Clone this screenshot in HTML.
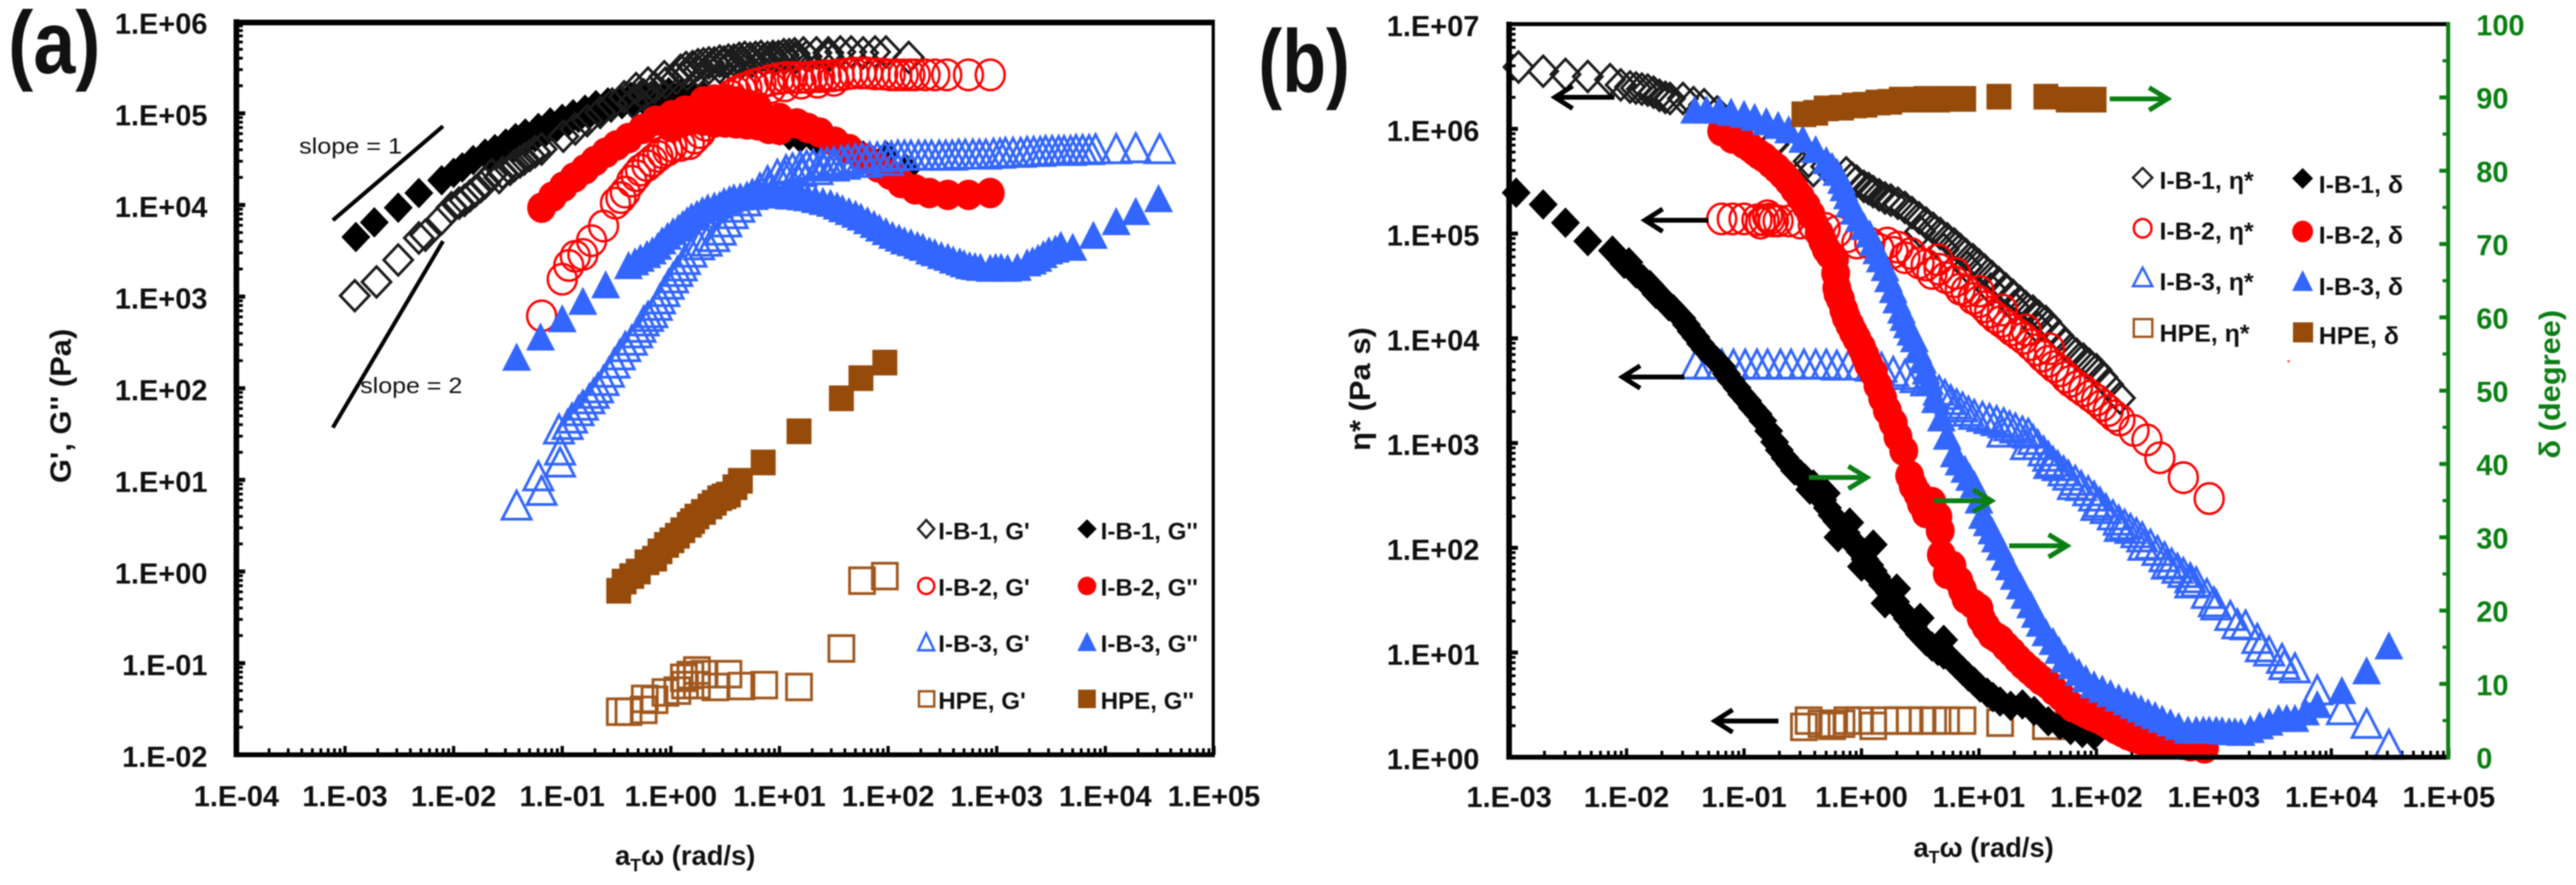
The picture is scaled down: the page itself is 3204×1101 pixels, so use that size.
<!DOCTYPE html>
<html>
<head>
<meta charset="utf-8">
<title>Rheology master curves</title>
<style>
html,body{margin:0;padding:0;background:#fff}
svg{display:block;filter:blur(0.9px)}
text{font-family:"Liberation Sans",sans-serif;font-weight:700;fill:#111}
.leg{font-size:30px}
</style>
</head>
<body>
<svg id="fig" xmlns="http://www.w3.org/2000/svg" width="3204" height="1101" viewBox="0 0 3204 1101">
<rect width="3204" height="1101" fill="#fff"/>

<text x="10" y="91" font-size="110" textLength="115" lengthAdjust="spacingAndGlyphs">(a)</text>
<text x="1565" y="114" font-size="110" textLength="114" lengthAdjust="spacingAndGlyphs">(b)</text>

<g id="a-ticks"></g>
<g id="b-ticks"></g>

<g fill="none">
<g id="a-hpe-gp"></g>
<g id="a-hpe-gpp"></g>
<g id="a-ib1-gpp"></g>
<g id="a-ib1-gp"></g>
<g id="a-ib2-gpp"></g>
<g id="a-ib2-gp"></g>
<g id="a-ib3-gpp"></g>
<g id="a-ib3-gp"></g>
</g>

<g fill="none">
<g id="b-hpe-eta"></g>
<g id="b-ib1-eta"></g>
<g id="b-ib2-eta"></g>
<g id="b-ib3-eta"></g>
<g id="b-ib1-delta"></g>
<g id="b-ib2-delta"></g>
<g id="b-ib3-delta"></g>
<g id="b-hpe-delta"></g>
</g>

<g stroke="#000" fill="none">
<line x1="294" y1="24" x2="294" y2="942" stroke-width="7"/>
<line x1="291" y1="28" x2="1511" y2="28" stroke-width="7"/>
<line x1="291" y1="939" x2="1511" y2="939" stroke-width="6"/>
<line x1="1509" y1="25" x2="1509" y2="942" stroke-width="4"/>
</g>
<g fill="none">
<line x1="1877" y1="27" x2="1877" y2="945" stroke="#000" stroke-width="7"/>
<line x1="1874" y1="30" x2="3047" y2="30" stroke="#000" stroke-width="5"/>
<line x1="1874" y1="942" x2="3047" y2="942" stroke="#000" stroke-width="6"/>
<line x1="3045" y1="28" x2="3045" y2="945" stroke="#0c7f14" stroke-width="5"/>
</g>

<g>
<line x1="414" y1="274" x2="551" y2="157" stroke="#000" stroke-width="5"/>
<line x1="414" y1="532" x2="551" y2="300" stroke="#000" stroke-width="5"/>
<text x="372" y="191" font-size="28" style="font-weight:400" textLength="128" lengthAdjust="spacingAndGlyphs">slope = 1</text>
<text x="448" y="489" font-size="28" style="font-weight:400" textLength="127" lengthAdjust="spacingAndGlyphs">slope = 2</text>
</g>

<text transform="translate(88,505) rotate(-90)" text-anchor="middle" font-size="36" textLength="192" lengthAdjust="spacingAndGlyphs">G', G'' (Pa)</text>
<text x="765" y="1076" font-size="34">a<tspan dy="8" font-size="22">T</tspan><tspan dy="-8">ω (rad/s)</tspan></text>
<text transform="translate(1704,484) rotate(-90)" text-anchor="middle" font-size="36" textLength="154" lengthAdjust="spacingAndGlyphs">η* (Pa s)</text>
<text x="2380" y="1066" font-size="34">a<tspan dy="8" font-size="22">T</tspan><tspan dy="-8">ω (rad/s)</tspan></text>
<text transform="translate(3184,478) rotate(-90)" text-anchor="middle" font-size="36" textLength="185" lengthAdjust="spacingAndGlyphs" style="fill:#0c7f14">δ (degree)</text>

<g>
<g><polygon points="1152,647 1162,658 1152,669 1142,658" fill="#fff" stroke="#222" stroke-width="3"/><text class="leg" x="1167" y="671">I-B-1, G'</text></g>
<g><polygon points="1352,646 1364,658 1352,670 1340,658" fill="#000"/><text class="leg" x="1369" y="671">I-B-1, G''</text></g>
<g><ellipse cx="1152" cy="729" rx="10" ry="10" fill="#fff" stroke="#f00" stroke-width="3"/><text class="leg" x="1167" y="741">I-B-2, G'</text></g>
<g><ellipse cx="1352" cy="729" rx="11.500" ry="11.500" fill="#f00"/><text class="leg" x="1369" y="741">I-B-2, G''</text></g>
<g><polygon points="1152,788 1162,809 1142,809" fill="#fff" stroke="#3366ff" stroke-width="3"/><text class="leg" x="1167" y="811">I-B-3, G'</text></g>
<g><polygon points="1352,786 1364,810 1340,810" fill="#3366ff"/><text class="leg" x="1369" y="811">I-B-3, G''</text></g>
<g><rect x="1143" y="860" width="19" height="19" fill="#fff" stroke="#a0581f" stroke-width="3"/><text class="leg" x="1167" y="882">HPE, G'</text></g>
<g><rect x="1341" y="858" width="22" height="23" fill="#964b0a"/><text class="leg" x="1369" y="882">HPE, G''</text></g>
</g>

<g>
<g><polygon points="2665,209 2677,221 2665,233 2653,221" fill="#fff" stroke="#222" stroke-width="3"/><text class="leg" x="2686" y="235" style="font-size:31px">I-B-1, η*</text></g>
<g><polygon points="2864,209 2877,222 2864,235 2851,222" fill="#000"/><text class="leg" x="2884" y="240" style="font-size:31px">I-B-1, δ</text></g>
<g><ellipse cx="2665" cy="284" rx="11" ry="11.500" fill="#fff" stroke="#f00" stroke-width="3"/><text class="leg" x="2686" y="298" style="font-size:31px">I-B-2, η*</text></g>
<g><ellipse cx="2864" cy="288" rx="13" ry="13.500" fill="#f00"/><text class="leg" x="2884" y="303" style="font-size:31px">I-B-2, δ</text></g>
<g><polygon points="2665,333 2677,356 2653,356" fill="#fff" stroke="#3366ff" stroke-width="3"/><text class="leg" x="2686" y="361" style="font-size:31px">I-B-3, η*</text></g>
<g><polygon points="2864,336 2877,362 2851,362" fill="#3366ff"/><text class="leg" x="2884" y="367" style="font-size:31px">I-B-3, δ</text></g>
<g><rect x="2654" y="397" width="23" height="22" fill="#fff" stroke="#a0581f" stroke-width="3"/><text class="leg" x="2686" y="425" style="font-size:31px">HPE, η*</text></g>
<g><rect x="2852" y="401" width="25" height="25" fill="#964b0a"/><text class="leg" x="2884" y="428" style="font-size:31px">HPE, δ</text></g>
</g>
<rect x="2845" y="448" width="3" height="3" fill="#f66"/>

<g fill="none" stroke-width="6" stroke-linecap="butt">
<path stroke="#000" d="M2008,121 H1934 M1956,107 L1934,121 L1956,135"/>
<path stroke="#000" d="M2125,274 H2046 M2068,260 L2046,274 L2068,288"/>
<path stroke="#000" d="M2095,469 H2018 M2040,455 L2018,469 L2040,483"/>
<path stroke="#000" d="M2212,897 H2133 M2155,883 L2133,897 L2155,911"/>
<path stroke="#0c7f14" d="M2624,123 H2696 M2673,109 L2696,123 L2673,137"/>
<path stroke="#0c7f14" d="M2250,594 H2322 M2299,580 L2322,594 L2299,608"/>
<path stroke="#0c7f14" d="M2405,623 H2477 M2454,609 L2477,623 L2454,637"/>
<path stroke="#0c7f14" d="M2499,679 H2571 M2548,665 L2571,679 L2548,693"/>
</g>
</svg>

<script>
// ---- tick labels ----
const aXTickLabels = ["1.E-04","1.E-03","1.E-02","1.E-01","1.E+00","1.E+01","1.E+02","1.E+03","1.E+04","1.E+05"];
const aYTickLabels = ["1.E-02","1.E-01","1.E+00","1.E+01","1.E+02","1.E+03","1.E+04","1.E+05","1.E+06"];
const bXTickLabels = ["1.E-03","1.E-02","1.E-01","1.E+00","1.E+01","1.E+02","1.E+03","1.E+04","1.E+05"];
const bYTickLabels = ["1.E+00","1.E+01","1.E+02","1.E+03","1.E+04","1.E+05","1.E+06","1.E+07"];
const bDeltaTickLabels = [0,10,20,30,40,50,60,70,80,90,100];

// ---- panel (a): log10 of aT*omega (rad/s) and log10 of modulus (Pa) ----
const ib1GpOmega = [-2.91,-2.71,-2.51,-2.32,-2.26,-2.11,-2.02,-1.90,-1.80,-1.71,-1.58,-1.48,-1.39,-1.30,-1.19,-0.99,-0.88,-0.77,-0.65,-0.54,-0.43,-0.32,-0.21,-0.06,0.09,0.20,0.30,0.40,0.49,0.58,0.68,0.78,0.89,0.99,1.09,1.34,1.56,1.77,1.98,2.19,
-1.95,-1.85,-1.75,-1.65,-1.55,-1.44,-1.35,-1.25,-0.35,-0.25,-0.15,-0.05,0.05,0.15,0.25,0.35,0.45,0.55,0.65,0.75,0.85,0.95,1.05,1.15,1.25,1.45,0.14,0.25,0.35,0.45,0.53,0.63,0.73,0.83,0.94,1.04,1.14,1.22,1.45,1.66,1.88];
const ib1GpMod = [3.01,3.16,3.40,3.64,3.67,3.85,3.97,4.05,4.15,4.24,4.30,4.39,4.47,4.54,4.61,4.75,4.83,4.92,5.01,5.10,5.18,5.27,5.33,5.40,5.47,5.51,5.54,5.55,5.56,5.58,5.61,5.61,5.61,5.62,5.64,5.66,5.67,5.66,5.67,5.61,
4.02,4.10,4.20,4.33,4.35,4.43,4.50,4.58,5.12,5.20,5.28,5.33,5.38,5.42,5.46,5.49,5.50,5.53,5.55,5.57,5.58,5.59,5.60,5.61,5.62,5.62,5.50,5.53,5.55,5.57,5.58,5.60,5.60,5.62,5.62,5.64,5.65,5.66,5.66,5.67,5.67];
const ib1GppOmega = [-2.90,-2.73,-2.51,-2.32,-2.11,-2.00,-1.92,-1.82,-1.71,-1.62,-1.52,-1.43,-1.34,-1.22,-1.11,-1.00,-0.90,-0.79,-0.69,-0.58,-0.47,-0.37,-0.28,-0.16,-0.02,0.09,0.20,0.31,0.42,0.52,0.60,0.69,0.78,0.89,1.00,1.09,1.19,1.34,1.54,1.77,1.98,2.17,
-1.65,-1.55,-1.45,-1.35,-1.25,-1.15,-1.05,-0.95,-0.85,-0.75,-0.65,-0.55,-0.45,-0.35,-0.25,-0.15,-0.05,0.05,0.15,0.25,0.35,0.45];
const ib1GppMod = [3.65,3.81,3.97,4.13,4.27,4.35,4.41,4.49,4.56,4.61,4.67,4.73,4.78,4.84,4.90,4.94,4.99,5.04,5.09,5.12,5.15,5.18,5.20,5.22,5.23,5.22,5.20,5.18,5.14,5.10,5.04,4.96,4.89,4.85,4.81,4.76,4.73,4.69,4.66,4.54,4.54,4.39,
4.52,4.58,4.62,4.68,4.74,4.80,4.85,4.90,4.95,4.99,5.03,5.06,5.10,5.12,5.14,5.16,5.18,5.17,5.15,5.12,5.08,5.04];
const ib2GpOmega = [-1.19,-1.00,-0.94,-0.88,-0.81,-0.73,-0.62,-0.51,-0.42,-0.36,-0.28,-0.17,-0.08,0.01,0.17,0.27,0.38,0.51,0.60,0.70,0.83,1.00,1.12,1.25,1.37,1.49,1.62,1.75,1.88,2.02,2.14,2.25,2.34,2.43,2.54,2.74,2.94,
-0.46,-0.32,-0.22,-0.12,-0.03,0.09,0.22,0.32,0.44,0.55,0.65,0.76,0.91,1.06,1.18,1.31,1.43,1.55,1.68,1.81,1.95,2.08,2.20,0.92,1.05,1.20,1.35,1.50];
const ib2GpMod = [2.79,3.19,3.34,3.44,3.46,3.61,3.77,4.02,4.14,4.26,4.38,4.48,4.57,4.64,4.67,4.79,4.94,5.14,5.23,5.28,5.33,5.38,5.39,5.39,5.40,5.41,5.43,5.44,5.43,5.42,5.42,5.42,5.42,5.42,5.42,5.42,5.42,
4.08,4.32,4.43,4.53,4.60,4.65,4.73,4.87,5.04,5.19,5.26,5.31,5.36,5.39,5.39,5.40,5.41,5.42,5.44,5.44,5.43,5.42,5.42,5.28,5.30,5.33,5.34,5.36];
const ib2GppOmega = [-1.19,-1.09,-0.99,-0.89,-0.79,-0.70,-0.60,-0.50,-0.39,-0.26,-0.14,0.01,0.13,0.27,0.43,0.57,0.70,0.83,1.00,1.16,1.26,1.37,1.51,1.64,1.79,1.91,2.02,2.12,2.25,2.38,2.55,2.74,2.94,
0.00,0.10,0.20,0.30,0.40,0.50,0.60,0.70,0.80,0.90,1.00,0.30,0.40,0.50,0.60,0.70,0.80];
const ib2GppMod = [3.97,4.09,4.20,4.30,4.39,4.48,4.57,4.65,4.73,4.83,4.92,4.98,5.03,5.05,5.05,5.04,5.01,4.98,4.95,4.89,4.84,4.79,4.69,4.61,4.51,4.41,4.33,4.24,4.17,4.13,4.11,4.11,4.13,
4.85,4.90,4.93,4.92,4.90,4.90,4.89,4.88,4.87,4.83,4.82,5.13,5.15,5.16,5.13,5.10,5.06];
const ib3GpOmega = [-1.42,-1.22,-1.19,-1.02,-1.02,-1.03,-0.91,-0.81,-0.71,-0.62,-0.52,-0.42,-0.31,-0.25,-0.17,-0.10,-0.02,0.06,0.13,0.26,0.40,0.46,0.51,0.63,0.75,0.89,1.06,1.19,1.31,1.44,1.57,1.70,1.83,1.97,2.09,2.21,2.34,2.47,2.59,2.71,2.84,2.97,3.08,3.22,3.34,3.45,3.57,3.68,3.79,3.91,4.10,4.28,4.50,
-0.95,-0.85,-0.75,-0.67,-0.57,-0.47,-0.36,-0.28,-0.21,-0.13,-0.06,0.02,0.10,0.19,0.33,0.57,0.69,0.82,0.98,1.12,1.25,1.38,1.50,1.63,1.76,1.90,2.03,2.15,2.28,2.40,2.53,2.65,2.78,2.90,3.03,3.15,3.28,3.40,3.51,3.62,3.73,3.85,0.90,1.05,1.20,1.35,1.50,1.40,1.60,1.80,2.00];
const ib3GpMod = [0.72,1.04,0.88,1.19,1.32,1.55,1.67,1.81,1.94,2.08,2.27,2.45,2.60,2.73,2.82,2.97,3.13,3.27,3.40,3.56,3.65,3.72,3.81,3.97,4.11,4.26,4.38,4.42,4.44,4.46,4.48,4.50,4.52,4.53,4.54,4.54,4.54,4.54,4.54,4.55,4.55,4.56,4.57,4.57,4.58,4.59,4.59,4.59,4.60,4.61,4.61,4.62,4.61,
1.60,1.75,1.88,2.00,2.17,2.36,2.52,2.66,2.78,2.90,3.05,3.20,3.33,3.48,3.60,3.90,4.04,4.18,4.33,4.40,4.43,4.45,4.47,4.49,4.51,4.52,4.53,4.54,4.54,4.54,4.54,4.55,4.55,4.55,4.56,4.57,4.58,4.58,4.59,4.59,4.60,4.60,4.20,4.32,4.36,4.38,4.42,4.42,4.44,4.46,4.48];
const ib3GppOmega = [-1.42,-1.20,-1.00,-0.81,-0.60,-0.39,-0.28,-0.17,-0.08,0.02,0.11,0.19,0.29,0.40,0.49,0.58,0.70,0.81,0.92,1.03,1.15,1.26,1.40,1.53,1.64,1.75,1.87,1.98,2.10,2.21,2.32,2.43,2.55,2.66,2.75,2.85,2.94,3.04,3.19,3.28,3.38,3.48,3.59,3.70,3.89,4.10,4.28,4.49,
-0.33,-0.22,-0.12,-0.03,0.07,0.15,0.24,0.34,0.45,0.54,0.64,0.75,0.87,0.97,1.09,1.20,1.33,1.47,1.58,1.70,1.81,1.92,2.04,2.15,2.27,2.38,2.49,2.60,2.70,2.80,2.99,3.10,3.33,3.43,3.54];
const ib3GppMod = [2.34,2.56,2.76,2.95,3.13,3.34,3.42,3.50,3.61,3.71,3.79,3.87,3.94,3.99,4.04,4.08,4.11,4.14,4.13,4.11,4.10,4.08,4.04,3.99,3.93,3.87,3.79,3.71,3.64,3.59,3.54,3.48,3.43,3.38,3.34,3.32,3.31,3.32,3.32,3.37,3.42,3.50,3.56,3.54,3.67,3.82,3.93,4.07,
3.38,3.46,3.55,3.66,3.75,3.83,3.90,3.97,4.00,4.06,4.09,4.12,4.14,4.12,4.10,4.09,4.06,4.02,3.96,3.90,3.83,3.75,3.67,3.61,3.56,3.50,3.45,3.40,3.36,3.33,3.32,3.31,3.39,3.46,3.52];
const hpeGpOmega = [-0.47,-0.39,-0.24,-0.25,-0.15,-0.05,0.06,0.12,0.13,0.24,0.24,0.18,0.31,0.41,0.53,0.65,0.86,1.18,1.57,1.76,1.97];
const hpeGpMod = [-1.53,-1.53,-1.39,-1.51,-1.40,-1.32,-1.30,-1.16,-1.24,-1.08,-1.24,-1.13,-1.12,-1.26,-1.12,-1.25,-1.24,-1.26,-0.84,-0.10,-0.05];
const hpeGppOmega = [-0.48,-0.43,-0.30,-0.22,-0.15,-0.04,0.06,0.17,0.24,0.36,0.45,0.53,0.64,0.85,1.18,1.57,1.75,1.97,
-0.36,-0.10,0.01,0.11,0.20,0.30,0.40,0.49,0.59];
const hpeGppMod = [-0.21,-0.11,0.00,0.10,0.14,0.29,0.39,0.51,0.60,0.71,0.80,0.84,0.99,1.19,1.53,1.89,2.11,2.28,
-0.05,0.22,0.34,0.45,0.55,0.65,0.75,0.82,0.92];

// ---- panel (b): log10 of aT*omega, log10 of eta* (Pa s), delta in degrees ----
const ib1EtaOmega = [-2.92,-2.71,-2.52,-2.33,-2.14,-2.05,-1.92,-1.82,-1.72,-1.63,-1.52,-1.43,-1.34,-1.23,-1.13,-1.03,-0.93,-0.75,-0.60,-0.45,-0.41,-0.30,-0.13,-0.08,0.02,0.10,0.20,0.31,0.43,0.55,0.67,0.79,0.89,1.00,1.11,1.23,1.35,1.46,1.57,1.68,1.78,1.89,2.00,2.10,2.20,
-1.97,-1.87,-1.77,-1.67,-0.04,0.06,0.15,0.25,0.37,0.49,0.61,0.73,0.84,0.95,1.05,1.17,1.29,1.40,1.51,1.62,1.73,1.83,1.94,2.05,0.50,0.70,0.90,1.10,1.30,1.50];
const ib1EtaVal = [6.59,6.55,6.52,6.50,6.47,6.42,6.39,6.37,6.32,6.29,6.29,6.25,6.23,6.16,6.08,6.02,5.94,5.85,5.75,5.69,5.60,5.64,5.58,5.53,5.45,5.40,5.34,5.29,5.20,5.10,5.00,4.90,4.80,4.70,4.59,4.47,4.35,4.26,4.16,4.02,3.89,3.80,3.70,3.56,3.43,
6.40,6.38,6.35,6.30,5.50,5.43,5.37,5.32,5.25,5.15,5.05,4.95,4.85,4.75,4.65,4.53,4.41,4.30,4.21,4.09,3.95,3.85,3.75,3.63,5.02,4.85,4.68,4.47,4.30,4.10];
const ib2EtaOmega = [-1.19,-1.10,-1.00,-0.89,-0.83,-0.78,-0.71,-0.62,-0.52,-0.41,-0.31,-0.21,-0.12,-0.04,0.07,0.22,0.31,0.42,0.55,0.66,0.79,0.89,1.00,1.09,1.19,1.28,1.38,1.49,1.59,1.69,1.78,1.89,2.00,2.10,2.20,2.32,2.43,2.54,2.74,2.96,
-0.86,-0.80,-0.75,0.15,0.27,0.37,0.49,0.60,0.72,0.84,0.95,1.05,1.14,1.24,1.33,1.44,1.54,1.64,1.74,1.84,1.95,2.05,2.15,0.65,0.80,1.00,1.20,1.40,1.60];
const ib2EtaVal = [5.14,5.14,5.14,5.13,5.13,5.14,5.12,5.12,5.10,5.08,5.05,5.02,4.97,4.91,4.91,4.91,4.87,4.81,4.70,4.66,4.54,4.45,4.35,4.25,4.16,4.08,4.00,3.89,3.78,3.69,3.59,3.50,3.41,3.31,3.22,3.12,3.03,2.86,2.67,2.47,
5.10,5.17,5.12,4.85,4.82,4.77,4.72,4.62,4.58,4.47,4.38,4.30,4.20,4.12,4.04,3.94,3.83,3.73,3.63,3.54,3.45,3.36,3.26,4.75,4.62,4.45,4.27,4.08,3.90];
const ib3EtaOmega = [-1.41,-1.30,-1.19,-1.09,-0.99,-0.89,-0.80,-0.69,-0.60,-0.49,-0.39,-0.30,-0.21,-0.11,-0.01,0.08,0.17,0.27,0.37,0.46,0.55,0.66,0.76,0.86,0.96,1.09,1.21,1.31,1.42,1.50,1.59,1.67,1.76,1.87,1.98,2.08,2.19,2.29,2.39,2.52,2.64,2.74,2.85,2.94,3.02,3.14,3.27,3.37,3.47,3.58,3.69,3.88,4.09,4.30,4.49,
0.71,0.81,0.91,1.03,1.15,1.26,1.37,1.46,1.55,1.63,1.72,1.82,1.93,2.03,2.14,2.24,2.34,2.46,2.58,2.69,2.80,1.20,1.40,1.60,1.80,2.00,2.20,2.40,2.60,2.80,3.00,3.20,3.40,3.60];
const ib3EtaVal = [3.75,3.75,3.75,3.75,3.75,3.75,3.75,3.75,3.75,3.75,3.75,3.75,3.74,3.74,3.74,3.73,3.72,3.68,3.65,3.62,3.59,3.50,3.41,3.34,3.27,3.23,3.19,3.14,3.09,2.98,2.87,2.78,2.69,2.59,2.49,2.37,2.26,2.18,2.10,1.97,1.85,1.76,1.67,1.56,1.45,1.35,1.26,1.13,1.01,0.94,0.85,0.64,0.45,0.32,0.12,
3.46,3.37,3.30,3.25,3.21,3.16,3.11,3.03,2.92,2.82,2.73,2.64,2.54,2.43,2.31,2.22,2.14,2.03,1.91,1.80,1.71,3.10,2.98,2.80,2.60,2.40,2.20,2.02,1.84,1.66,1.48,1.27,1.05,0.88];
const hpeEtaOmega = [-0.49,-0.45,-0.34,-0.25,-0.17,-0.12,-0.02,0.10,0.20,0.31,0.41,0.52,0.61,0.72,0.86,1.18,1.57,1.78];
const hpeEtaVal = [0.29,0.35,0.32,0.30,0.32,0.35,0.35,0.30,0.35,0.35,0.35,0.35,0.35,0.35,0.35,0.33,0.30,0.30];
const ib1DeltaOmega = [-2.94,-2.71,-2.52,-2.33,-2.12,-2.02,-1.92,-1.80,-1.69,-1.60,-1.53,-1.45,-1.37,-1.28,-1.19,-1.11,-1.02,-0.93,-0.84,-0.74,-0.65,-0.57,-0.48,-0.41,-0.33,-0.25,-0.17,-0.09,-0.01,0.07,0.13,0.24,0.34,0.44,0.55,0.65,0.76,0.86,0.96,1.07,1.18,1.27,1.37,1.47,1.59,1.69,1.78,1.88,1.98,
-1.98,-1.86,-1.75,-1.64,-1.49,-1.41,-1.33,-1.23,-1.15,-1.06,-0.97,-0.88,-0.79,-0.70,-0.61,-0.52,-0.44,-0.37,-0.29,-0.21,-0.13,-0.05,0.03,0.10,0.18,0.29,0.39,0.49,0.60,0.70,0.81,0.91,1.01,1.12,-0.30,-0.10,0.10,0.30,0.50,0.70,-0.20,0.00,0.20];
const ib1DeltaVal = [77.0,75.4,72.9,70.4,69.1,67.3,66.0,64.4,62.5,61.1,59.9,58.1,56.4,54.8,53.3,51.4,49.5,47.7,45.9,43.0,40.8,39.1,38.0,37.2,35.1,33.0,31.5,29.7,28.0,26.2,24.6,22.4,20.0,17.8,15.8,14.5,13.4,11.8,10.3,8.8,7.6,7.0,7.2,6.3,4.9,4.4,3.7,3.3,3.0,
67.5,65.2,63.2,61.5,59.0,57.3,55.6,54.0,52.3,50.4,48.6,46.8,44.5,41.9,40.0,38.6,36.5,36.0,34.0,32.2,30.6,28.8,27.0,25.4,23.5,21.2,18.9,16.8,15.1,14.0,12.6,11.0,9.5,8.2,36.0,32.0,29.0,23.0,19.0,16.0,30.0,26.0,21.0];
const ib2DeltaOmega = [-1.19,-1.10,-1.00,-0.91,-0.83,-0.72,-0.62,-0.52,-0.43,-0.36,-0.30,-0.23,-0.22,-0.21,-0.18,-0.15,-0.10,-0.04,0.03,0.10,0.18,0.27,0.36,0.41,0.48,0.55,0.60,0.65,0.67,0.68,0.77,0.83,0.89,1.00,1.02,1.11,1.18,1.28,1.38,1.48,1.59,1.70,1.80,1.91,2.01,2.12,2.22,2.32,2.43,2.55,2.67,2.80,2.92,
-0.95,-0.87,-0.77,-0.67,-0.57,-0.47,-0.33,-0.27,-0.20,-0.13,-0.07,0.00,0.06,0.14,0.22,0.31,0.44,0.51,0.73,0.86,0.95,1.06,1.15,1.23,1.33,1.43,1.53,1.64,1.75,1.86,1.96,2.07,2.17,2.27,2.37,2.49,2.61,2.73];
const ib2DeltaVal = [85.4,84.4,83.7,82.7,81.8,80.3,78.6,76.4,74.0,71.5,69.3,67.9,66.0,64.0,62.5,61.0,59.0,57.1,54.8,52.5,49.0,45.6,41.8,38.4,35.9,33.3,34.8,32.8,30.9,27.6,26.1,24.0,21.6,20.3,18.9,16.7,16.0,14.3,12.6,11.2,9.9,8.3,6.8,6.0,5.3,4.3,3.4,2.7,2.2,2.0,1.9,1.5,1.2,
83.2,82.2,81.0,79.5,77.5,75.2,70.4,68.6,63.2,60.0,58.0,55.9,53.6,50.7,47.3,43.7,37.0,34.6,25.0,22.8,20.9,17.8,16.3,15.1,13.4,11.9,10.5,9.1,7.5,6.4,5.6,4.8,3.8,3.0,2.4,2.1,1.9,1.7];
const ib3DeltaOmega = [-1.42,-1.32,-1.21,-1.11,-1.00,-0.91,-0.81,-0.71,-0.62,-0.50,-0.39,-0.30,-0.21,-0.15,-0.10,-0.02,0.07,0.13,0.20,0.27,0.34,0.39,0.45,0.52,0.58,0.68,0.79,0.88,0.96,1.00,1.03,1.11,1.18,1.26,1.35,1.44,1.52,1.63,1.73,1.85,1.98,2.12,2.26,2.38,2.50,2.63,2.78,2.91,3.02,3.13,3.23,3.39,3.55,3.69,3.88,4.09,4.30,4.49,
-0.25,-0.17,-0.12,-0.06,0.02,0.10,0.16,0.23,0.30,0.36,0.42,0.48,0.55,0.63,0.73,0.83,0.92,1.07,1.14,1.22,1.30,1.39,1.48,1.57,1.68,1.79,1.91,2.05,2.19,2.32,2.44,2.56,2.70,2.85,2.96,3.07,3.18,3.31,3.47,3.62,3.78];
const ib3DeltaVal = [88.3,88.3,88.3,88.0,87.7,87.3,86.7,86.2,85.6,84.3,82.9,81.4,79.8,77.7,75.5,73.5,71.4,69.1,66.8,63.8,61.0,59.0,57.1,54.2,51.3,46.3,41.4,39.3,37.2,35.1,33.0,30.9,28.7,26.0,23.4,20.8,18.3,15.8,13.4,11.6,9.9,8.7,7.6,6.6,5.7,4.7,3.7,3.7,3.7,3.5,3.4,4.3,5.3,5.3,7.2,9.1,11.8,15.2,
80.6,78.7,76.6,74.5,72.4,70.2,68.0,65.3,62.4,60.0,58.0,55.6,52.7,48.8,43.8,40.3,38.2,32.0,29.8,27.3,24.7,22.1,19.5,17.0,14.6,12.5,10.7,9.3,8.1,7.1,6.1,5.2,4.2,3.7,3.7,3.6,3.5,3.8,4.8,5.3,6.2];
const hpeDeltaOmega = [-0.49,-0.39,-0.30,-0.17,-0.06,0.03,0.14,0.24,0.34,0.44,0.55,0.65,0.75,0.87,1.17,1.57,1.76,1.88,1.98];
const hpeDeltaVal = [87.7,87.9,88.5,88.6,88.9,89.0,89.3,89.4,89.7,89.7,89.8,89.7,89.8,89.8,90.1,90.1,89.7,89.7,89.7];

// ---- axis functions ----
const aX = v => 294 + (v + 4) * 135.1;
const aY = v => 27 + (6 - v) * 114;
const bX = v => 1877 + (v + 3) * 146.1;
const bY = v => 30 + (7 - v) * 130.3;
const bD = v => 942 - v * 9.12;

const SVGNS = 'http://www.w3.org/2000/svg';
const BLACK = '#000', OPENK = '#1c1c1c', RED = '#ff0000', BLUE = '#3366ff', BROWN = '#964b0a', OPENB = '#a0581f', GREEN = '#0c7f14';

function shapeEl(shape, cx, cy, fill, stroke, sw) {
  let el;
  if (shape === 'circle') {
    el = document.createElementNS(SVGNS, 'ellipse');
    el.setAttribute('cx', cx); el.setAttribute('cy', cy);
    el.setAttribute('rx', 18); el.setAttribute('ry', 19);
  } else if (shape === 'square') {
    el = document.createElementNS(SVGNS, 'rect');
    el.setAttribute('x', cx - 15.5); el.setAttribute('y', cy - 16);
    el.setAttribute('width', 31); el.setAttribute('height', 32);
  } else {
    el = document.createElementNS(SVGNS, 'polygon');
    const p = shape === 'diamond'
      ? [cx, cy - 19, cx + 18, cy, cx, cy + 19, cx - 18, cy]
      : [cx, cy - 18, cx + 18, cy + 17, cx - 18, cy + 17];
    el.setAttribute('points', p.join(' '));
  }
  el.setAttribute('fill', fill);
  el.setAttribute('stroke', stroke);
  el.setAttribute('stroke-width', sw);
  return el;
}

function plot(id, xs, ys, xFn, yFn, shape, fill, stroke, sw) {
  const g = document.getElementById(id);
  xs.forEach((x, i) => {
    const mark = shapeEl(shape, xFn(x), yFn(ys[i]), fill, stroke, sw);
    
    
    g.appendChild(mark);
  });
}

function tickLine(g, x1, y1, x2, y2, color, w) {
  const l = document.createElementNS(SVGNS, 'line');
  l.setAttribute('x1', x1); l.setAttribute('y1', y1);
  l.setAttribute('x2', x2); l.setAttribute('y2', y2);
  l.setAttribute('stroke', color); l.setAttribute('stroke-width', w);
  
  
  g.appendChild(l);
}

function tickLabel(g, x, y, str, anchor, color) {
  const t = document.createElementNS(SVGNS, 'text');
  t.setAttribute('x', x); t.setAttribute('y', y);
  t.setAttribute('text-anchor', anchor);
  t.setAttribute('font-size', 36);
  if (color) t.style.fill = color;
  t.textContent = str;
  
  
  g.appendChild(t);
}

const MINORS = [2, 3, 4, 5, 6, 7, 8, 9];

function logAxes(g, xLabels, yLabels, xFn, yFn, leftX, bottomY, xLabY, yLabX) {
  xLabels.forEach((lab, i) => {
    const d = Math.log10(Number(lab));
    tickLine(g, xFn(d), bottomY, xFn(d), bottomY - 11, '#000', 4);
    tickLabel(g, xFn(d), xLabY, lab, 'middle');
    if (i < xLabels.length - 1) MINORS.forEach(m => {
      const x = xFn(d + Math.log10(m));
      tickLine(g, x, bottomY, x, bottomY - 8, '#000', 3.500);
    });
  });
  yLabels.forEach((lab, i) => {
    const d = Math.log10(Number(lab));
    tickLine(g, leftX, yFn(d), leftX + 11, yFn(d), '#000', 5);
    tickLabel(g, yLabX, yFn(d) + 15, lab, 'end');
    if (i < yLabels.length - 1) MINORS.forEach(m => {
      const y = yFn(d + Math.log10(m));
      tickLine(g, leftX, y, leftX + 8, y, '#000', 3.500);
    });
  });
}

const aTicks = document.getElementById('a-ticks');
const bTicks = document.getElementById('b-ticks');
logAxes(aTicks, aXTickLabels, aYTickLabels, aX, aY, 294, 939, 1003, 258);
logAxes(bTicks, bXTickLabels, bYTickLabels, bX, bY, 1877, 942, 1004, 1840);

bDeltaTickLabels.forEach((v, i) => {
  tickLine(bTicks, 3034, bD(v), 3047, bD(v), GREEN, 5);
  tickLabel(bTicks, 3080, bD(v) + 14, String(v), 'start', GREEN);
  if (i < bDeltaTickLabels.length - 1) tickLine(bTicks, 3038, bD(v + 5), 3047, bD(v + 5), GREEN, 4);
});

// panel (a) marks
plot('a-hpe-gp', hpeGpOmega, hpeGpMod, aX, aY, 'square', 'none', OPENB, 3.500);
plot('a-hpe-gpp', hpeGppOmega, hpeGppMod, aX, aY, 'square', BROWN, 'none', 0);
plot('a-ib1-gpp', ib1GppOmega, ib1GppMod, aX, aY, 'diamond', BLACK, 'none', 0);
plot('a-ib1-gp', ib1GpOmega, ib1GpMod, aX, aY, 'diamond', 'none', OPENK, 3.500);
plot('a-ib2-gpp', ib2GppOmega, ib2GppMod, aX, aY, 'circle', RED, 'none', 0);
plot('a-ib2-gp', ib2GpOmega, ib2GpMod, aX, aY, 'circle', 'none', RED, 3);
plot('a-ib3-gpp', ib3GppOmega, ib3GppMod, aX, aY, 'triangle', BLUE, 'none', 0);
plot('a-ib3-gp', ib3GpOmega, ib3GpMod, aX, aY, 'triangle', 'none', BLUE, 3.500);

// panel (b) marks
plot('b-hpe-eta', hpeEtaOmega, hpeEtaVal, bX, bY, 'square', 'none', OPENB, 3.500);
plot('b-ib1-eta', ib1EtaOmega, ib1EtaVal, bX, bY, 'diamond', 'none', OPENK, 3.500);
plot('b-ib2-eta', ib2EtaOmega, ib2EtaVal, bX, bY, 'circle', 'none', RED, 3);
plot('b-ib3-eta', ib3EtaOmega, ib3EtaVal, bX, bY, 'triangle', 'none', BLUE, 3.500);
plot('b-ib1-delta', ib1DeltaOmega, ib1DeltaVal, bX, bD, 'diamond', BLACK, 'none', 0);
plot('b-ib2-delta', ib2DeltaOmega, ib2DeltaVal, bX, bD, 'circle', RED, 'none', 0);
plot('b-ib3-delta', ib3DeltaOmega, ib3DeltaVal, bX, bD, 'triangle', BLUE, 'none', 0);
plot('b-hpe-delta', hpeDeltaOmega, hpeDeltaVal, bX, bD, 'square', BROWN, 'none', 0);
</script>
</body>
</html>
